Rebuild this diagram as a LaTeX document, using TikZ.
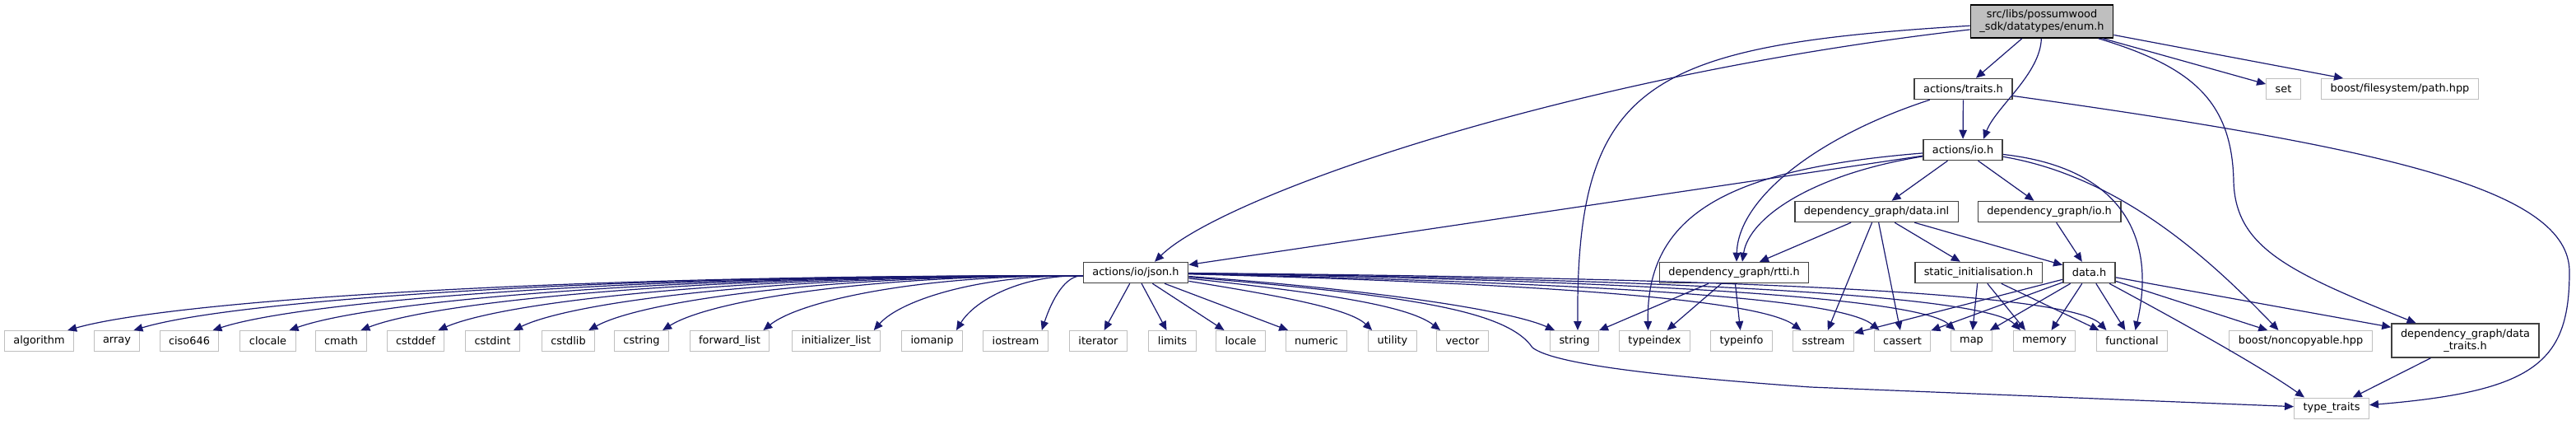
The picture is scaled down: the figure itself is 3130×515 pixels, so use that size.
\documentclass[tikz,border=0pt]{standalone}
\usepackage{fontspec}
\setmainfont{DejaVu Sans}
\usetikzlibrary{arrows.meta,calc}
\definecolor{edgeblue}{HTML}{191970}
\definecolor{extgrey}{HTML}{BFBFBF}
\definecolor{docgrey}{HTML}{404040}
\tikzset{
  hdr/.style={rectangle,font=\fontsize{12.9}{15}\selectfont,minimum height=25pt,inner xsep=11pt,inner ysep=2pt,fill=white},
  dochdr/.style={hdr,draw=docgrey,line width=1.5pt},
  exthdr/.style={hdr,draw=extgrey,line width=1pt},
  roothdr/.style={hdr,draw=black,fill=extgrey,line width=1.5pt,align=center,minimum height=40pt},
  incl/.style={draw=edgeblue,line width=1.2pt,-{Triangle[length=11pt,width=9.5pt]}}
}
\begin{document}
\begin{tikzpicture}[x=1pt,y=-1pt]
  \useasboundingbox (0,0) rectangle (3130,515);
  \node[roothdr] (enum) at (2481,26) {src/libs/possumwood\\\_sdk/datatypes/enum.h};
  \node[dochdr] (traits) at (2385.5,108) {actions/traits.h};
  \node[exthdr] (set) at (2774.5,108) {set};
  \node[exthdr] (fspath) at (2916,108) {boost/filesystem/path.hpp};
  \node[dochdr] (io) at (2385,182) {actions/io.h};
  \node[dochdr] (dinl) at (2280,257) {dependency\_graph/data.inl};
  \node[dochdr] (dgio) at (2490,257) {dependency\_graph/io.h};
  \node[dochdr] (json) at (1380,331) {actions/io/json.h};
  \node[dochdr] (rtti) at (2107,331) {dependency\_graph/rtti.h};
  \node[dochdr] (static) at (2404,331) {static\_initialisation.h};
  \node[dochdr] (data) at (2538.5,331) {data.h};
  \foreach \n/\x/\lbl in {algorithm/47.5/algorithm, array/142/array, ciso646/230/ciso646,
      clocale/325.5/clocale, cmath/414.5/cmath, cstddef/505/cstddef, cstdint/598.5/cstdint,
      cstdlib/690.5/cstdlib, cstring/779.5/cstring, fwdlist/886.5/forward\_list,
      initlist/1016/initializer\_list, iomanip/1132.5/iomanip, iostream/1234/iostream,
      iterator/1334.5/iterator, limits/1424.5/limits, locale/1507.5/locale,
      numeric/1599.5/numeric, utility/1692/utility, vector/1777/vector, string/1913/string,
      typeindex/2010.5/typeindex, typeinfo/2116/typeinfo, sstream/2215.5/sstream,
      cassert/2311.5/cassert, map/2395.5/map, memory/2484/memory, functional/2590.5/functional}
    \node[exthdr] (\n) at (\x,414) {\lbl};
  \node[exthdr] (noncopy) at (2795.5,414) {boost/noncopyable.hpp};
  \node[dochdr,align=center,minimum height=41pt,minimum width=179pt] (dtraits) at (2995.5,413.5) {dependency\_graph/data\\\_traits.h};
  \node[exthdr] (ttraits) at (2833,495.5) {type\_traits};

  \draw[incl] (enum) -- (traits);
  \draw[incl] (enum) -- (set);
  \draw[incl] (enum) -- (fspath);
  \draw[incl] (enum) .. controls (2479,90) and (2425,130) .. ([xshift=25pt]io.north);
  \draw[incl] (enum) .. controls (1895,93) and (1483,239) .. ([xshift=23pt]json.north);
  \draw[incl] (enum) .. controls (2000,55) and (1915,100) .. ([xshift=4pt]string.north);
  \draw[incl] (enum) .. controls (2660,80) and (2712,120) .. (2714,220)
    .. controls (2716,300) and (2780,330) .. ([xshift=-60pt]dtraits.north);

  \draw[incl] (traits) -- (io);
  \draw[incl] (traits) .. controls (2210,165) and (2112,240) .. ([xshift=3pt]rtti.north);
  \draw[incl] (traits) .. controls (2900,180) and (3122,230) .. (3122,330)
    .. controls (3122,440) and (3080,475) .. (ttraits);

  \draw[incl] (io) -- (json);
  \draw[incl] (io) -- (dinl);
  \draw[incl] (io) -- (dgio);
  \draw[incl] (io) .. controls (2200,212) and (2125,265) .. ([xshift=10pt]rtti.north);
  \draw[incl] (io) .. controls (2100,205) and (2000,260) .. ([xshift=-8pt]typeindex.north);
  \draw[incl] (io) .. controls (2590,205) and (2618,300) .. ([xshift=4pt]functional.north);
  \draw[incl] (io) .. controls (2580,215) and (2690,320) .. ([xshift=-27pt]noncopy.north);

  \draw[incl] (dinl) -- (rtti);
  \draw[incl] (dinl) -- (sstream);
  \draw[incl] (dinl) -- (cassert);
  \draw[incl] (dinl) -- (static);
  \draw[incl] (dinl) -- (data);
  \draw[incl] (dgio) -- (data);

  \draw[incl] (static) -- (map);
  \draw[incl] (static) -- ([xshift=-23pt]memory.north);
  \draw[incl] (static) -- ([xshift=-40pt]functional.north);

  \foreach \n in {sstream,cassert,map,memory,functional,noncopy,dtraits}
    \draw[incl] (data) -- (\n);
  \draw[incl] (data) .. controls (2620,375) and (2740,440) .. ([xshift=-33pt]ttraits.north);

  \foreach \n in {string,typeindex,typeinfo}
    \draw[incl] (rtti) -- (\n);
  \draw[incl] (dtraits) -- (ttraits);

  \foreach \n in {algorithm,array,ciso646,clocale,cmath,cstddef,cstdint,cstdlib,cstring,fwdlist,initlist,iomanip,iostream}
    \draw[incl] ([yshift=-4pt]json.west) .. controls ($(json.west)!0.5!(\n.north east)+(0,-33)$)
      and ($(\n.north east)!0.1!(json.west)+(0,-30)$) .. ([xshift=-8pt]\n.north east);
  \foreach \n in {iterator,limits,locale,numeric}
    \draw[incl] (json) -- (\n);
  \draw[incl] (json) .. controls (1560,360) and (1640,375) .. ([xshift=5pt]utility.north west);
  \draw[incl] (json) .. controls (1600,355) and (1710,370) .. ([xshift=5pt]vector.north west);
  \draw[incl] (json) .. controls (1650,350) and (1830,375) .. ([xshift=-24pt]string.north);
  \draw[incl] (json) .. controls (1900,345) and (2140,365) .. ([xshift=-27pt]sstream.north);
  \draw[incl] (json) .. controls (2000,345) and (2240,365) .. ([xshift=-28pt]cassert.north);
  \draw[incl] (json) .. controls (2100,342) and (2340,368) .. ([xshift=-20pt]map.north);
  \draw[incl] (json) .. controls (2150,340) and (2420,365) .. ([xshift=-29pt]memory.north);
  \draw[incl] (json) .. controls (2200,338) and (2520,360) .. ([xshift=-31pt]functional.north);
  \draw[incl] (json) .. controls (1700,358) and (1830,375) .. (1862,422)
    .. controls (1885,440) and (1990,455) .. (2200,470) -- (ttraits);
\end{tikzpicture}
\end{document}
